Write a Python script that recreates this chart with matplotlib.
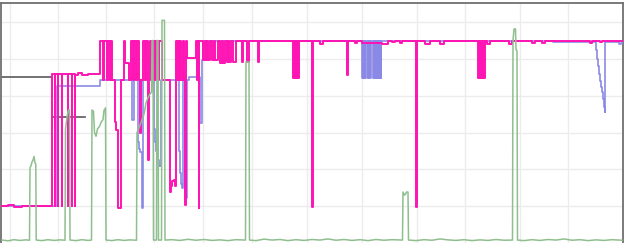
import numpy as np
import matplotlib
matplotlib.use("Agg")
import matplotlib.pyplot as plt

# ---- data (x = sample position, v = value; magenta/blue hold value until next x) ----
magenta_x = [2, 8, 14, 22, 30, 40, 46,
             52, 55, 55.5, 58, 58.5, 62, 62.5, 68, 68.5, 72, 72.5, 75, 75.5, 78, 82, 85, 88,
             100, 103.5, 104.5, 107, 108, 110, 111, 112.5,
             115, 116.5, 118, 121.5, 124, 124.7, 129.5,
             131.5, 133, 134.5, 136, 137, 139.5, 140.5, 141.3,
             143.5, 145, 146, 148, 148.5, 149.3,
             150, 152, 153, 155, 156, 158.5, 159.5, 162.5,
             170, 171.5, 172.5, 174, 175, 176, 177, 178, 179, 180.5, 181.5, 183, 184, 185, 185.6, 186.5, 187.3,
             196, 197, 198, 198.8, 199.5,
             203, 205, 206, 207.5, 208.5, 210, 212, 214.5, 215.5, 218, 220, 222.5, 223.5, 225, 227, 228.5, 229.5,
             231.5, 233.5, 236.5, 242, 243, 247, 249.5, 258, 259.5,
             293, 293.7, 294.3, 295, 295.6, 296.3, 296.9, 297.6, 298.2, 299,
             312, 313, 320, 323, 347, 348, 355, 357, 362, 382, 388, 392, 395, 400, 402,
             416, 417, 425, 430, 440, 444,
             478, 478.7, 479.3, 480, 480.6, 481.3, 481.9, 482.6, 483.2, 483.9, 484.5, 485.3,
             487, 490, 509, 512, 532, 535, 542, 545, 590, 592, 600, 602, 623]
magenta_v = [20, 20.4, 19.8, 20.3, 19.9, 20.3, 20,
             92, 20, 92, 20, 92, 20, 92, 20, 92, 20, 92, 20, 91.5, 92.5, 91.5, 91.3, 91.8,
             110, 88.6, 110, 88.6, 110, 88.6, 110, 88.6,
             65.5, 61.4, 19, 88.6, 110, 97.8, 88.6,
             110, 88.6, 110, 88.6, 110, 88.6, 59.8, 88.6,
             110, 88.6, 110, 88.6, 45, 88.6,
             110, 88.6, 110, 88.6, 110, 88.6, 110, 88.6,
             27.7, 31, 33.5, 34.5, 31, 110, 88.6, 110, 88.6, 110, 88.6, 110, 88.6, 20.7, 88.6, 110, 100.5,
             110, 88.6, 110, 19, 110,
             99.5, 110, 99.5, 110, 99.5, 110, 99.5, 110, 99.5, 110, 97.8, 110, 97.8, 110, 98.4, 110, 98.4,
             110, 98.4, 110, 98.4, 110, 98.4, 110, 98.4, 110,
             89.7, 110, 89.7, 110, 89.7, 110, 89.7, 110, 89.7, 110,
             19.6, 110, 108.2, 110, 91.3, 110, 108.8, 110, 108.8, 108.2, 110, 109, 110, 108.5, 110,
             19.6, 110, 108.2, 110, 108.2, 110,
             89.7, 110, 89.7, 110, 89.7, 110, 89.7, 110, 89.7, 110, 89.7, 110,
             108.2, 110, 108.2, 110, 108.5, 110, 108.5, 110, 108.8, 110, 109, 110, 110]

blue_x = [2, 57, 100, 132.5, 134.5, 138.5, 139.5, 140.5, 142.5, 143.5,
          154, 155, 156, 157, 158, 159.5, 161.5, 179, 180, 181, 182, 183, 185.5, 186.5, 187.5,
          189, 199, 200, 202.5, 203.5,
          362, 362.7, 363.3, 364, 364.6, 365.3, 367.5, 368.2, 368.8, 369.5, 370.1, 370.8,
          373, 373.7, 374.3, 375, 375.6, 376.3, 376.9, 377.6, 378.2, 378.9, 379.5, 380.2, 380.8, 381.5,
          553, 596, 597, 598, 599, 600, 601, 602, 603, 604, 604.8, 605.5, 619, 621, 623]
blue_v = [20, 85.3, 88.6, 66.8, 88.6, 55, 51, 49.5, 19, 88.6,
          62, 55, 50, 47, 45, 42, 88.6, 50, 38, 32, 30, 88.6, 28, 24.5, 88.6,
          90.2, 90, 65.2, 99.5, 110,
          89.7, 109.8, 89.7, 109.8, 89.7, 109.8, 89.7, 109.8, 89.7, 109.8, 89.7, 109.8,
          89.7, 109.8, 89.7, 109.8, 89.7, 109.8, 89.7, 109.8, 89.7, 109.8, 89.7, 109.8, 89.7, 109.8,
          109.3, 105, 100, 96, 92, 88, 85, 82, 78, 74, 71.2, 109.3, 108, 108.5, 108.5]

green_x = [2, 8, 14, 20, 26, 29.5, 30, 31, 32, 33, 34, 35, 35.8, 36.2, 42, 48, 54, 60, 65,
           65.5, 66.5, 67.5, 68.5, 69.5, 70, 76, 82, 88, 91.5, 92, 93.5, 94.5, 96, 97.5, 99, 100,
           101.5, 103, 104, 105.5, 106, 112, 118, 124, 130, 136.5, 137, 138.5, 140, 142, 144, 146,
           148, 150, 151.5, 152, 153, 153.5, 156.5, 157, 158, 158.5, 161.5, 162, 164.5, 165,
           172, 180, 188, 196, 204, 212, 220, 228, 236, 245.5, 246, 249, 249.5, 256, 264, 272,
           280, 288, 296, 304, 312, 320, 328, 336, 344, 352, 360, 368, 376, 384, 392, 402.5,
           403, 404.5, 405.5, 406.5, 408, 408.5, 416, 424, 432, 440, 448, 456, 464, 472, 480,
           488, 496, 504, 512.5, 513, 514, 515.5, 516, 517, 517.5, 524, 532, 540, 548, 556, 564,
           572, 580, 588, 596, 604, 612, 622]
green_v = [1.6, 1.2, 1.8, 1.4, 1.7, 1.5, 40.8, 42, 44, 45, 47, 43.5, 43, 1.6, 1.3, 1.8, 1.4, 1.7, 1.5,
           62, 66, 70, 72.3, 72.3, 1.6, 1.3, 1.8, 1.4, 1.6, 72.3, 71.5, 60, 58, 62, 63, 64,
           66, 67, 72, 73.4, 1.6, 1.3, 1.8, 1.4, 1.7, 1.5, 60, 62, 64, 67, 70, 76,
           79, 81, 82, 110, 110, 1.6, 1.6, 110, 110, 1.6, 1.6, 121, 121, 1.6,
           1.8, 1.4, 2.0, 1.5, 1.9, 1.4, 1.7, 1.3, 1.8, 1.6, 98.4, 98.4, 1.6, 1.3, 2.1, 1.6,
           1.9, 1.3, 1.8, 1.4, 1.9, 1.6, 2.2, 1.5, 1.9, 1.4, 1.8, 1.3, 1.9, 1.5, 1.8, 1.6,
           27.7, 26, 26.5, 27.7, 27.7, 1.6, 1.3, 1.8, 1.5, 2.2, 1.7, 1.4, 1.8, 1.3, 1.7,
           1.4, 1.9, 1.5, 1.6, 110, 116.3, 116.3, 105, 104.5, 1.6, 1.3, 1.8, 1.4, 1.9, 1.6, 2.2,
           1.5, 1.8, 1.3, 1.7, 1.4, 1.8, 1.5]

gray_x = [2, 52, 52, 53, 85]
gray_v = [90.2, 90.2, np.nan, 68.5, 68.5]

x_grid = [10, 58, 106, 154, 203, 252, 307, 362, 417, 465, 520, 568]
y_grid = [20, 40, 60, 80, 100, 120]

# ---- figure ----
W, H, DPI = 625, 243, 100
fig = plt.figure(figsize=(W / DPI, H / DPI), dpi=DPI)
ax = fig.add_axes([1.5 / W, 0, (623 - 1.5) / W, (H - 3) / H])
ax.set_xlim(1.5, 623)
ax.set_ylim(0, 130.4)

ax.set_xticks(x_grid)
ax.set_yticks(y_grid)
ax.grid(True, color="#ececec", linewidth=1.0)
ax.set_axisbelow(True)
ax.tick_params(length=0, labelbottom=False, labelleft=False)

for s in ["left", "top", "right"]:
    ax.spines[s].set_color("#707070")
    ax.spines[s].set_linewidth(1.3)
ax.spines["bottom"].set_visible(False)

ax.plot(gray_x, gray_v, color="#5a5a5a", lw=1.2, zorder=2)
ax.plot(blue_x, blue_v, color="#8a8ae6", lw=1.2, drawstyle="steps-post", zorder=3)
ax.plot(magenta_x, magenta_v, color="#ff14b4", lw=1.4, drawstyle="steps-post", zorder=4)
ax.plot(green_x, green_v, color="#8fbf8f", lw=1.1, zorder=5)

fig.savefig("out.png", dpi=DPI)
